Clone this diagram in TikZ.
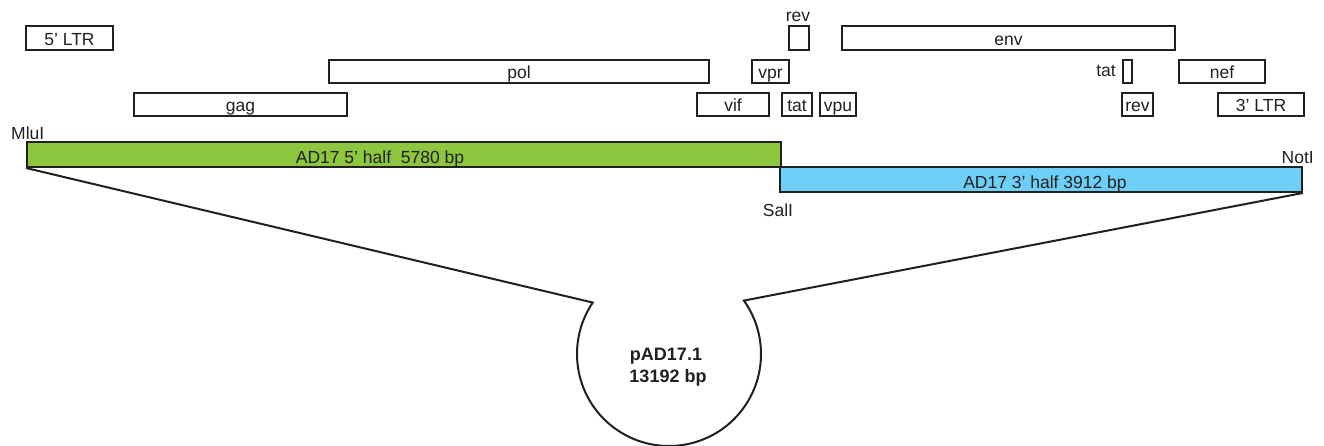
\documentclass[tikz,border=0pt]{standalone}
\usepackage{fontspec}
\setmainfont{Liberation Sans}
\usetikzlibrary{calc}
\definecolor{edge}{HTML}{231F20}
\definecolor{halfgreen}{HTML}{8DC63F}
\definecolor{halfblue}{HTML}{6DCFF6}
\begin{document}
\begin{tikzpicture}[x=1pt,y=1pt,
  font=\fontsize{17.5}{20}\selectfont,
  gene/.style={draw=edge,line width=2pt,fill=white,inner sep=0pt,anchor=south west},
  bar/.style={draw=edge,line width=1.8pt,inner sep=0pt,anchor=south west},
  lbl/.style={inner sep=0pt,text=edge},
  conn/.style={draw=edge,line width=2pt}]
\useasboundingbox (0,0) rectangle (1324,-446);
% gene boxes: name, x1, y1(top), x2, y2(bottom), text
\newcommand{\genebox}[6]{%
  \node[gene,minimum width=#4-#2,minimum height=#5-#3] (#1) at (#2,-#5) {};
  \node[lbl,anchor=base] at ($(#1.center)+(0,-7.5)$) {#6};}
\genebox{ltrfive}{25}{27}{112}{51}{5’ LTR}
\genebox{gag}{133}{94}{346}{117}{gag}
\genebox{pol}{328}{61}{708}{84}{pol}
\genebox{revtop}{788}{27}{808}{51}{}
\genebox{env}{841}{27}{1174}{51}{env}
\genebox{vpr}{751}{61}{788}{84}{vpr}
\genebox{vif}{696}{94}{768}{117}{vif}
\genebox{tatlow}{781}{94}{811}{117}{tat}
\genebox{vpu}{819}{94}{855}{117}{vpu}
\genebox{tatmid}{1122}{61}{1131}{84}{}
\genebox{nef}{1178}{61}{1264}{84}{nef}
\genebox{revlow}{1121}{94}{1152}{117}{rev}
\genebox{ltrthree}{1217}{94}{1303}{117}{3’ LTR}
\node[lbl,anchor=base] (revlbl) at (798,-21.5) {rev};
\node[lbl,anchor=base east] (tatlbl) at (1116,-77) {tat};
% bars
\node[bar,fill=halfgreen,minimum width=754,minimum height=25] (green) at (26,-168) {};
\node[lbl,anchor=base] at (380,-164) {AD17 5’ half\ \ 5780 bp};
\node[bar,fill=halfblue,minimum width=522,minimum height=25] (blue) at (779,-193) {};
\node[lbl,anchor=base] at (1045,-189) {AD17 3’ half 3912 bp};
\node[lbl,anchor=base west] (mlui) at (11,-140) {MluI};
\node[lbl,anchor=base east] (noti) at (1314,-164) {NotI};
\node[lbl,anchor=base] (sali) at (778,-216.5) {SalI};
% plasmid
\coordinate (pc) at (669,-354);
\coordinate (pl) at ($(pc)+(146:92)$);
\coordinate (pr) at ($(pc)+(35.5:92)$);
\draw[conn] (green.south west) -- (pl) arc[start angle=146,end angle=395.5,radius=92] -- (blue.south east);
\node[lbl,anchor=base,font=\fontsize{18}{22}\selectfont\bfseries] (plasmidA) at (666,-360) {pAD17.1};
\node[lbl,anchor=base,font=\fontsize{18}{22}\selectfont\bfseries] (plasmidB) at (668,-382) {13192 bp};
\end{tikzpicture}
\end{document}
